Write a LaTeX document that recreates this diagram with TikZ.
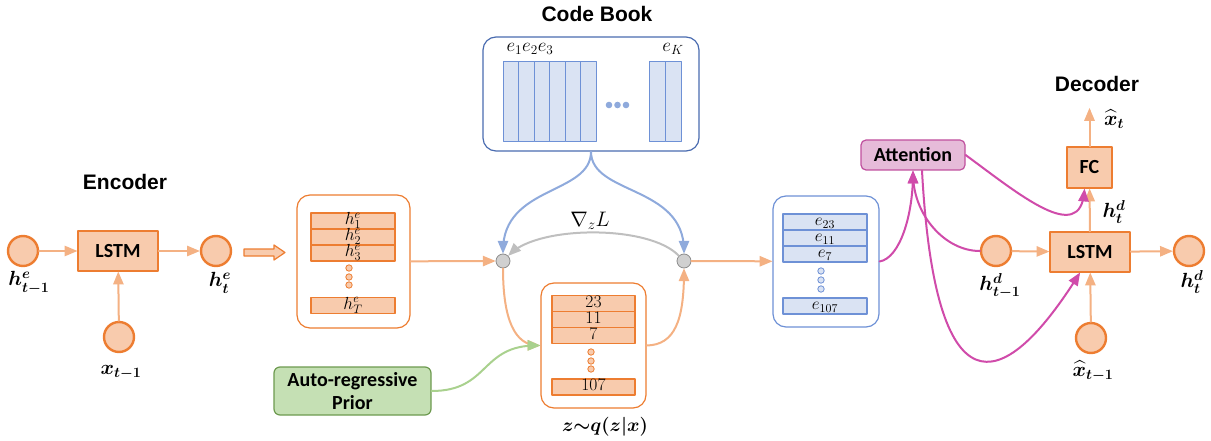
\RequirePackage{fix-cm}
\documentclass[tikz,border=0pt]{standalone}
\usepackage{amssymb,amsmath}
\usepackage{fontspec}
\usepackage{tikz}
\usetikzlibrary{arrows}
\newfontfamily\titlefont{Liberation Sans}
\newfontfamily\boxfont{Carlito}
\definecolor{orline}{HTML}{ED7D31}
\definecolor{orfill}{HTML}{F8CBAD}
\definecolor{orarrow}{HTML}{F4B183}
\definecolor{bookline}{HTML}{4A6CB0}
\definecolor{cellline}{HTML}{6E91D6}
\definecolor{cellfill}{HTML}{DAE3F3}
\definecolor{bluearrow}{HTML}{8FAADC}
\definecolor{junctfill}{HTML}{D0D0D0}
\definecolor{junctline}{HTML}{8C8C8C}
\definecolor{gradarrow}{HTML}{BFBFBF}
\definecolor{priorfill}{HTML}{C5E0B4}
\definecolor{priorline}{HTML}{6D9A4F}
\definecolor{priorarrow}{HTML}{A9D18E}
\definecolor{attfill}{HTML}{E6BBD9}
\definecolor{attline}{HTML}{C0509E}
\definecolor{attarrow}{HTML}{D04BAA}

\begin{document}
\begin{tikzpicture}[x=1pt,y=-1pt,line cap=round,line join=round,>=triangle 45,
  unit/.style={circle,draw=orline,fill=orfill,line width=2.4pt,minimum size=30pt,inner sep=0pt},
  cellbox/.style={rectangle,draw=orline,fill=orfill,line width=1.3pt,inner sep=0pt,font=\boxfont\bfseries\fontsize{20}{24}\selectfont},
  heading/.style={font=\titlefont\bfseries\fontsize{21}{25}\selectfont},
  lab/.style={font=\fontsize{20.5}{23}\selectfont,inner sep=0pt},
  holder/.style={rectangle,rounded corners=13pt,line width=1.2pt,fill=white},
  orow/.style={rectangle,draw=orline,fill=orfill,line width=1.2pt,minimum width=84pt,minimum height=16pt,inner sep=0pt,text height=8.5pt,text depth=1.5pt,font=\fontsize{17.5}{19}\selectfont},
  brow/.style={orow,draw=cellline,fill=cellfill,font=\fontsize{17}{19}\selectfont},
  junct/.style={circle,draw=junctline,fill=junctfill,line width=0.8pt,minimum size=14pt,inner sep=0pt},
  flow/.style={->,draw=orarrow,line width=2pt},
  attflow/.style={->,draw=attarrow,line width=2pt}]
        \useasboundingbox (0,0) rectangle (1211,441);
        % encoder
        \node[heading] (enctitle) at (125,182) {Encoder};
        \node[unit] (hEprev) at (23,251) {};
        \node[cellbox,minimum width=80pt,minimum height=40pt] (lstmE) at (118,251) {LSTM};
        \node[unit] (hE) at (216,251) {};
        \node[unit] (xprev) at (119,337) {};
        \node[lab] (hEprevlab) at (29,283) {$\boldsymbol{h^e_{t-1}}$};
        \node[lab] (hElab) at (220,283) {$\boldsymbol{h^e_t}$};
        \node[lab] (xprevlab) at (121,372) {$\boldsymbol{x_{t-1}}$};
        \draw[flow] (hEprev) -- (lstmE);
        \draw[flow] (lstmE) -- (hE);
        \draw[flow] (xprev) -- (lstmE);
        \draw[draw=orline,fill=orfill,line width=1.2pt] (244,249) -- (274,249) -- (274,245) -- (285,252.5) -- (274,260) -- (274,256) -- (244,256) -- cycle;
        % encoder states
        \node[holder,draw=orline,minimum width=113pt,minimum height=133pt] (encbox) at (353.5,261.5) {};
        \foreach \y/\s [count=\i] in {221/1,237/2,253/3}
        \node[orow] (hrow\i) at (353,\y) {$h^e_{\s}$};
        \node[orow] (hrowT) at (353,305.5) {$h^e_T$};
        \foreach \y in {268,277,285}
        \draw[orline,fill=orfill,line width=0.8pt] (349,\y) circle (3.2pt);
        \node[junct] (jl) at (503,261) {};
        \node[junct] (jr) at (684,261) {};
        \draw[flow] (encbox) -- (jl);
        % code book
        \node[heading] (booktitle) at (597,14) {Code Book};
        \node[holder,draw=bookline,minimum width=216pt,minimum height=114pt] (book) at (591,94) {};
        \foreach \i in {0,...,5}
        \draw[draw=cellline,fill=cellfill,line width=1pt] (503+15.5*\i,62) rectangle ++(15.5,80);
        \foreach \i in {0,1}
        \draw[draw=cellline,fill=cellfill,line width=1pt] (649+16*\i,62) rectangle ++(16,80);
        \foreach \x in {609,617.5,626}
        \fill[bluearrow] (\x,105) circle (3.3pt);
        \node[lab,font=\fontsize{19}{21}\selectfont] (elab) at (530,49) {$e_1e_2e_3$};
        \node[lab,font=\fontsize{19}{21}\selectfont] (eKlab) at (673,49) {$e_K$};
        \draw[->,draw=bluearrow,line width=2pt] (book.south) .. controls (591,195) and (503,185) .. (jl.north);
        \draw[->,draw=bluearrow,line width=2pt] (book.south) .. controls (591,195) and (684,185) .. (jr.north);
        \draw[->,draw=gradarrow,line width=2pt] (jr.north west) .. controls (650,225) and (540,225) .. (jl.north east);
        \node[lab,font=\fontsize{21}{23}\selectfont] (grad) at (590,221) {$\nabla_z L$};
        % posterior
        \node[holder,draw=orline,minimum width=105pt,minimum height=125pt] (zbox) at (593.5,345.5) {};
        \foreach \y/\s [count=\i] in {303.5/23,319.5/11,335.5/7}
        \node[orow,minimum width=83pt] (zrow\i) at (593.5,\y) {\s};
        \node[orow,minimum width=83pt] (zrowlast) at (593.5,387) {107};
        \foreach \y in {352,361,369}
        \draw[orline,fill=orfill,line width=0.8pt] (591,\y) circle (3.2pt);
        \node[lab,font=\fontsize{19}{21}\selectfont] (zlab) at (605,427) {$\boldsymbol{z{\sim}q(z|x)}$};
        \draw[flow] (jl.south) .. controls (503,320) and (515,345) .. (zbox.west);
        \draw[flow] (zbox.east) .. controls (675,345) and (684,320) .. (jr.south);
        \node[rectangle,rounded corners=6pt,draw=priorline,fill=priorfill,line width=1.2pt,minimum width=157pt,minimum height=48pt,align=center,font=\boxfont\bfseries\fontsize{20}{23}\selectfont] (prior) at (352.5,391) {Auto-regressive\\Prior};
        \draw[->,draw=priorarrow,line width=2pt] (prior.east) .. controls (490,391) and (480,345) .. (zbox.west);
        % quantized
        \node[holder,draw=cellline,minimum width=106pt,minimum height=131pt] (qbox) at (826,261.5) {};
        \foreach \y/\s [count=\i] in {222/23,238/11,254/7}
        \node[brow] (erow\i) at (825,\y) {$e_{\s}$};
        \node[brow] (erowlast) at (825,306) {$e_{107}$};
        \foreach \y in {271,280,289}
        \draw[cellline,fill=cellfill,line width=0.8pt] (821,\y) circle (3.2pt);
        \draw[flow] (jr) -- (qbox);
        % decoder
        \node[heading] (dectitle) at (1097,84) {Decoder};
        \node[rectangle,rounded corners=5pt,draw=attline,fill=attfill,line width=1.2pt,minimum width=104pt,minimum height=30pt,font=\boxfont\bfseries\fontsize{20}{24}\selectfont] (att) at (913,155) {Attention};
        \node[cellbox,minimum width=80pt,minimum height=40pt] (lstmD) at (1090,252) {LSTM};
        \node[cellbox,minimum width=45pt,minimum height=41pt] (fc) at (1089.5,167.5) {FC};
        \node[unit] (hDprev) at (996,251) {};
        \node[unit] (hDout) at (1189,251) {};
        \node[unit] (xhatprev) at (1091,338) {};
        \coordinate (xhatout) at (1089.5,108);
        \node[lab] (hDprevlab) at (1000,286) {$\boldsymbol{h^d_{t-1}}$};
        \node[lab] (hDlab) at (1114,212) {$\boldsymbol{h^d_t}$};
        \node[lab] (hDoutlab) at (1192,282) {$\boldsymbol{h^d_t}$};
        \node[lab] (xhatprevlab) at (1093,371) {$\boldsymbol{\widehat{x}_{t-1}}$};
        \node[lab] (xhatlab) at (1114,119) {$\boldsymbol{\widehat{x}_t}$};
        \draw[flow] (hDprev) -- (lstmD);
        \draw[flow] (lstmD) -- (hDout);
        \draw[flow] (xhatprev) -- (lstmD);
        \draw[flow] (lstmD) -- (fc);
        \draw[flow] (fc) -- (xhatout);
        \draw[attflow] (qbox.east) .. controls (900,258) and (913,215) .. (att.south);
        \draw[attflow] (hDprev.west) .. controls (945,251) and (913,215) .. (att.south);
        \draw[attflow] ([xshift=9pt]att.south) .. controls (935,410) and (1000,400) .. ([xshift=-10pt]lstmD.south);
        \draw[attflow] (att.east) .. controls (1020,195) and (1080,245) .. ([xshift=-5pt]fc.south);
\end{tikzpicture}
\end{document}
